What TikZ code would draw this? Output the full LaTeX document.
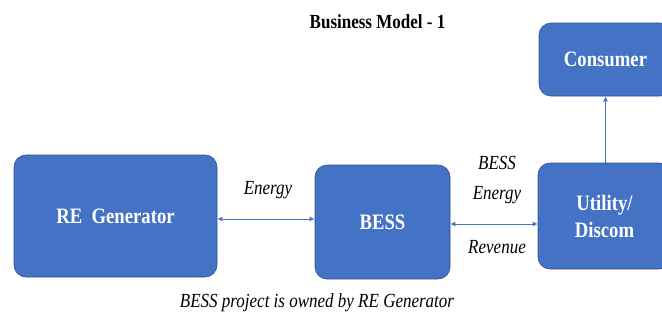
\documentclass[tikz,border=0pt]{standalone}
\usepackage{fontspec}
\setmainfont{Liberation Serif}[FakeStretch=0.85]
\usetikzlibrary{arrows.meta}
\definecolor{boxblue}{HTML}{4472C4}
\definecolor{edgeblue}{HTML}{2F528F}

\begin{document}
\begin{tikzpicture}[x=1pt,y=-1pt,
  block/.style={draw=edgeblue, line width=0.6pt, fill=boxblue, rounded corners=12pt,
    text=white, font=\fontsize{22}{27}\selectfont\bfseries, align=center, inner sep=0pt},
  lbl/.style={font=\fontsize{20}{30}\selectfont\itshape, align=center, inner sep=0pt},
  link/.style={boxblue, line width=1pt, {Latex[length=5pt,width=5pt]}-{Latex[length=5pt,width=5pt]}},
  feed/.style={boxblue, line width=1pt, -{Latex[length=5pt,width=5pt]}}]

  \clip (0,0) rectangle (662,322);
  \fill[white] (0,0) rectangle (662,322);

  % Define nodes
  \node[font=\fontsize{20}{24}\selectfont\bfseries] (title) at (377.5,22) {Business Model - 1};
  \node[block, minimum width=203pt, minimum height=122pt] (re_gen) at (115.5,216) {RE\ \ Generator};
  \node[block, minimum width=135pt, minimum height=114pt] (bess) at (382.5,222) {BESS};
  \node[block, minimum width=133pt, minimum height=106pt] (util) at (604.5,216) {Utility/\\Discom};
  \node[block, minimum width=133pt, minimum height=73pt] (cons) at (605.5,59.5) {Consumer};

  \node[lbl] (energy) at (268,190) {Energy};
  \node[lbl] (bess_energy) at (497,180) {BESS\\Energy};
  \node[lbl] (revenue) at (497,247) {Revenue};
  \node[lbl] (owner) at (317,303) {BESS project is owned by RE Generator};

  % Connect the nodes
  \draw[link] ([yshift=-3pt]re_gen.east) -- ([yshift=-3pt]re_gen.east -| bess.west);
  \draw[link] ([yshift=-2pt]bess.east) -- ([yshift=-2pt]bess.east -| util.west);
  \draw[feed] (util.north -| cons.south) -- (cons.south);

\end{tikzpicture}
\end{document}
